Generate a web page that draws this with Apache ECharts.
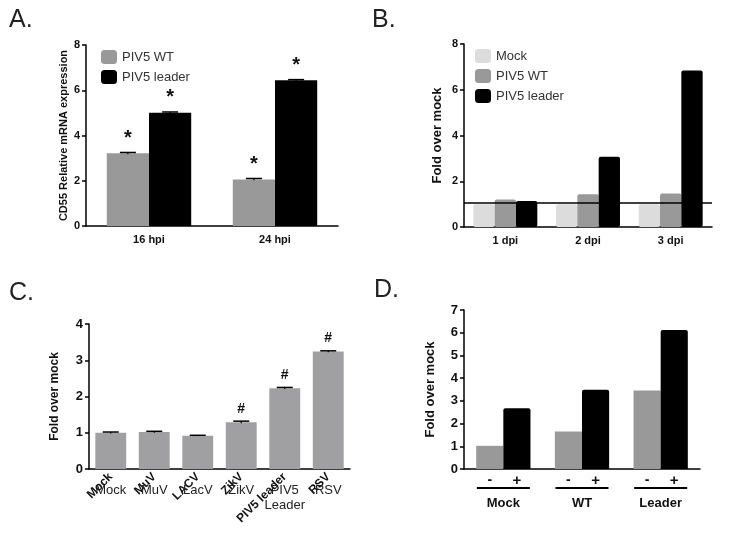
<!DOCTYPE html>
<html>
<head>
<meta charset="utf-8">
<script src="https://cdn.jsdelivr.net/npm/echarts@6/dist/echarts.min.js"></script>
<style>html,body{margin:0;padding:0;background:#fff;}#c{width:754px;height:544px;}</style>
</head>
<body>
<div id="c"></div>
<script>
// ---- Panel A ----
const catsA = ['16 hpi', '24 hpi'];
const wtA = [3.21, 2.06];
const wtErrA = [0.04, 0.04];
const leaderA = [5.01, 6.44];
const leaderErrA = [0.03, 0.03];
const ticksA = [0, 2, 4, 6, 8];
// ---- Panel B ----
const catsB = ['1 dpi', '2 dpi', '3 dpi'];
const mockB = [1.0, 1.0, 1.0];
const wtB = [1.2, 1.43, 1.46];
const leaderB = [1.14, 3.07, 6.84];
const refLineB = 1.08;
const ticksB = [0, 2, 4, 6, 8];
// ---- Panel C ----
const catsCRot = ['Mock', 'MuV', 'LACV', 'ZikV', 'PIV5 leader', 'RSV'];
const catsCFlat = ['Mock', 'MuV', 'LacV', 'ZikV', 'PIV5\nLeader', 'RSV'];
const valC = [1.0, 1.02, 0.92, 1.29, 2.23, 3.24];
const errC = [0.02, 0.02, 0.01, 0.03, 0.02, 0.02];
const markC = ['', '', '', '#', '#', '#'];
const ticksC = [0, 1, 2, 3, 4];
// ---- Panel D ----
const catsD = ['Mock', 'WT', 'Leader'];
const minusD = [1.02, 1.65, 3.46];
const plusD = [2.68, 3.49, 6.12];
const ticksD = [0, 1, 2, 3, 4, 5, 6, 7];

const FONT = '"Liberation Sans", Arial, sans-serif';

function errRender(offsetFrac, cap) {
  return function (params, api) {
    const x = api.value(0), v = api.value(1), e = api.value(2);
    const band = api.size([1, 0])[0];
    const top = api.coord([x, v + e]);
    const bot = api.coord([x, v - e]);
    const cx = top[0] + offsetFrac * band;
    return {
      type: 'group',
      children: [
        { type: 'line', shape: { x1: cx - cap, y1: top[1], x2: cx + cap, y2: top[1] }, style: { stroke: '#000', lineWidth: 1.5 } },
        { type: 'line', shape: { x1: cx, y1: top[1], x2: cx, y2: bot[1] }, style: { stroke: '#000', lineWidth: 1.2 } }
      ]
    };
  };
}

function yAx(grid, ticks, name, nameGap, nameSize, labelSize) {
  return {
    type: 'value', gridIndex: grid, min: ticks[0], max: ticks[ticks.length - 1],
    interval: ticks[1] - ticks[0],
    name: name, nameLocation: 'middle', nameGap: nameGap,
    nameTextStyle: { fontFamily: FONT, fontWeight: 'bold', fontSize: nameSize, color: '#111' },
    axisLine: { show: true, lineStyle: { color: '#000', width: 1.5 } },
    axisTick: { show: true, length: 4, lineStyle: { color: '#000', width: 1.5 } },
    axisLabel: { fontFamily: FONT, fontWeight: 'bold', fontSize: labelSize, color: '#111', margin: 6 },
    splitLine: { show: false }
  };
}

const option = {
  animation: false,
  backgroundColor: '#fff',
  textStyle: { fontFamily: FONT },
  title: [
    { text: 'A.', left: 4, top: 3, textStyle: { fontFamily: FONT, fontSize: 25, fontWeight: 'normal', color: '#222' } },
    { text: 'B.', left: 367, top: 3, textStyle: { fontFamily: FONT, fontSize: 25, fontWeight: 'normal', color: '#222' } },
    { text: 'C.', left: 4, top: 276, textStyle: { fontFamily: FONT, fontSize: 25, fontWeight: 'normal', color: '#222' } },
    { text: 'D.', left: 369, top: 273, textStyle: { fontFamily: FONT, fontSize: 25, fontWeight: 'normal', color: '#222' } }
  ],
  legend: [
    { orient: 'vertical', left: 96, top: 45, itemWidth: 16, itemHeight: 14, itemGap: 6, icon: 'roundRect',
      data: ['PIV5 WT', 'PIV5 leader'], textStyle: { fontFamily: FONT, fontSize: 13, color: '#333' } },
    { orient: 'vertical', left: 470, top: 44, itemWidth: 16, itemHeight: 14, itemGap: 6, icon: 'roundRect',
      data: ['Mock', 'PIV5 WT', 'PIV5 leader'], textStyle: { fontFamily: FONT, fontSize: 13, color: '#333' } }
  ],
  grid: [
    { left: 86, top: 45, width: 252, height: 181 },
    { left: 464, top: 44, width: 248, height: 183 },
    { left: 89, top: 324, width: 261, height: 145 },
    { left: 464, top: 310, width: 236, height: 159 }
  ],
  xAxis: [
    { type: 'category', gridIndex: 0, data: catsA,
      axisLine: { lineStyle: { color: '#000', width: 1.5 } },
      axisTick: { alignWithLabel: true, length: 4, lineStyle: { color: '#000', width: 1.5 } },
      axisLabel: { fontFamily: FONT, fontWeight: 'bold', fontSize: 11, color: '#111', margin: 8 } },
    { type: 'category', gridIndex: 1, data: catsB,
      axisLine: { lineStyle: { color: '#000', width: 1.5 } },
      axisTick: { alignWithLabel: true, length: 4, lineStyle: { color: '#000', width: 1.5 } },
      axisLabel: { fontFamily: FONT, fontWeight: 'bold', fontSize: 11, color: '#111', margin: 8 } },
    { type: 'category', gridIndex: 2, data: catsCRot, position: 'bottom',
      axisLine: { lineStyle: { color: '#000', width: 1.5 } },
      axisTick: { alignWithLabel: true, length: 5, lineStyle: { color: '#000', width: 1.5 } },
      axisLabel: { fontFamily: FONT, fontWeight: 'bold', fontSize: 12, color: '#111', margin: 6, rotate: 45, interval: 0 } },
    { type: 'category', gridIndex: 2, data: catsCFlat, position: 'bottom',
      axisLine: { show: false }, axisTick: { show: false },
      axisLabel: { fontFamily: FONT, fontSize: 13, color: '#222', margin: 14, interval: 0, lineHeight: 15 } },
    { type: 'category', gridIndex: 3, data: catsD,
      axisLine: { lineStyle: { color: '#000', width: 1.5 } },
      axisTick: { alignWithLabel: true, length: 5, lineStyle: { color: '#000', width: 1.5 } },
      axisLabel: { margin: 18, interval: 0,
        formatter: function (v) { return '{l| }\n{t|' + v + '}'; },
        rich: {
          l: { width: 53, height: 2, lineHeight: 2, backgroundColor: '#000' },
          t: { fontFamily: FONT, fontWeight: 'bold', fontSize: 13, color: '#111', lineHeight: 28 }
        } } }
  ],
  yAxis: [
    yAx(0, ticksA, 'CD55 Relative mRNA expression', 17, 11, 11),
    yAx(1, ticksB, 'Fold over mock', 20, 13, 11),
    yAx(2, ticksC, 'Fold over mock', 28, 12, 13),
    yAx(3, ticksD, 'Fold over mock', 27, 13, 13)
  ],
  series: [
    // A
    { name: 'PIV5 WT', type: 'bar', xAxisIndex: 0, yAxisIndex: 0, data: wtA, barGap: '0%', barCategoryGap: '33%',
      itemStyle: { color: '#999' },
      label: { show: true, position: 'top', distance: 5, formatter: '*', fontSize: 20, fontWeight: 'bold', color: '#111' } },
    { name: 'PIV5 leader', type: 'bar', xAxisIndex: 0, yAxisIndex: 0, data: leaderA, barGap: '0%', barCategoryGap: '33%',
      itemStyle: { color: '#000' },
      label: { show: true, position: 'top', distance: 5, formatter: '*', fontSize: 20, fontWeight: 'bold', color: '#111' } },
    { type: 'custom', xAxisIndex: 0, yAxisIndex: 0, renderItem: errRender(-0.1675, 8), z: 5,
      data: wtA.map(function (v, i) { return [i, v, wtErrA[i]]; }), encode: { x: 0, y: 1 } },
    { type: 'custom', xAxisIndex: 0, yAxisIndex: 0, renderItem: errRender(0.1675, 8), z: 5,
      data: leaderA.map(function (v, i) { return [i, v, leaderErrA[i]]; }), encode: { x: 0, y: 1 } },
    // B
    { name: 'Mock', type: 'bar', xAxisIndex: 1, yAxisIndex: 1, data: mockB, barGap: '0%', barCategoryGap: '22.6%',
      itemStyle: { color: '#dcdcdc', borderRadius: 2 },
      markLine: { symbol: 'none', silent: true, label: { show: false },
        lineStyle: { color: '#000', width: 1.5, type: 'solid' }, data: [{ yAxis: refLineB }] } },
    { name: 'PIV5 WT', type: 'bar', xAxisIndex: 1, yAxisIndex: 1, data: wtB, barGap: '0%', barCategoryGap: '22.6%',
      itemStyle: { color: '#999', borderRadius: 2 } },
    { name: 'PIV5 leader', type: 'bar', xAxisIndex: 1, yAxisIndex: 1, data: leaderB, barGap: '0%', barCategoryGap: '22.6%',
      itemStyle: { color: '#000', borderRadius: 2 } },
    // C
    { name: 'C', type: 'bar', xAxisIndex: 2, yAxisIndex: 2, data: valC, barCategoryGap: '29%',
      itemStyle: { color: '#a0a0a3' },
      label: { show: true, position: 'top', distance: 6, fontSize: 14, fontWeight: 'bold', color: '#111',
        formatter: function (p) { return markC[p.dataIndex]; } } },
    { type: 'custom', xAxisIndex: 2, yAxisIndex: 2, renderItem: errRender(0, 8), z: 5,
      data: valC.map(function (v, i) { return [i, v, errC[i]]; }), encode: { x: 0, y: 1 } },
    // D
    { name: 'minus', type: 'bar', xAxisIndex: 4, yAxisIndex: 3, data: minusD, barGap: '0%', barCategoryGap: '31%',
      itemStyle: { color: '#999' },
      label: { show: true, position: 'bottom', distance: 4, formatter: '-', fontSize: 14, fontWeight: 'bold', color: '#111' } },
    { name: 'plus', type: 'bar', xAxisIndex: 4, yAxisIndex: 3, data: plusD, barGap: '0%', barCategoryGap: '31%',
      itemStyle: { color: '#000', borderRadius: [2, 2, 0, 0] },
      label: { show: true, position: 'bottom', distance: 4, formatter: '+', fontSize: 15, fontWeight: 'bold', color: '#111' } }
  ]
};

const chart = echarts.init(document.getElementById('c'), null, { renderer: 'canvas' });
chart.setOption(option);
</script>
</body>
</html>
